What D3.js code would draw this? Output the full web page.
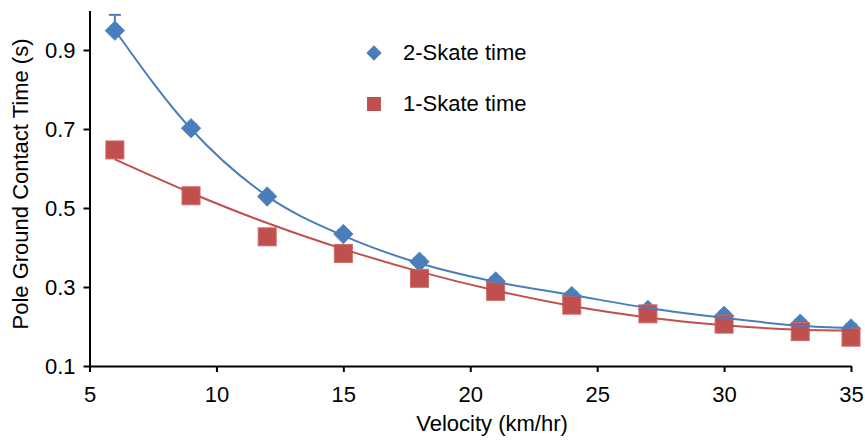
<!DOCTYPE html>
<html>
<head>
<meta charset="utf-8">
<script src="https://cdn.jsdelivr.net/npm/d3@7"></script>
<style>
  body { margin: 0; background: #fff; }
  text { font-family: "Liberation Sans", Arial, sans-serif; fill: #000; }
</style>
</head>
<body>
<script>
// chart values
let velocity = [6, 9, 12, 15, 18, 21, 24, 27, 30, 33, 35];
let twoSkate = [0.949, 0.702, 0.529, 0.434, 0.364, 0.314, 0.277, 0.242, 0.227, 0.207, 0.195];
let twoSkateErr = [0.04, 0.01, 0.01, 0.01, 0.01, 0.01, 0.01, 0.01, 0.01, 0.01, 0.01];
let oneSkate = [0.647, 0.531, 0.427, 0.385, 0.322, 0.289, 0.254, 0.232, 0.206, 0.187, 0.173];
// trendline values at each velocity
let twoSkateTrend = [0.95, 0.70, 0.53, 0.43, 0.36, 0.313, 0.28, 0.247, 0.222, 0.202, 0.196];
let oneSkateTrend = [0.623, 0.538, 0.462, 0.396, 0.339, 0.291, 0.252, 0.223, 0.203, 0.192, 0.19];
let xTicks = [5, 10, 15, 20, 25, 30, 35];
let yTicks = [0.1, 0.3, 0.5, 0.7, 0.9];
let seriesNames = ["2-Skate time", "1-Skate time"];

let width = 865;
let height = 441;
let blue = "#4a7ebb";
let red = "#c0504d";

let svg = d3.select("body").append("svg")
  .attr("width", width)
  .attr("height", height);

let x = d3.scaleLinear().domain([5, 35]).range([89.5, 851]);
let y = d3.scaleLinear().domain([0.1, 1.0]).range([366, 10.5]);

// axes
let xAxis = svg.append("g")
  .attr("transform", `translate(0, ${y(0.1)})`)
  .call(d3.axisBottom(x).tickValues(xTicks).tickSize(6).tickSizeOuter(0).tickPadding(14));
let yAxis = svg.append("g")
  .attr("transform", `translate(${x(5)}, 0)`)
  .call(d3.axisLeft(y).tickValues(yTicks).tickFormat(d3.format(".1f")).tickSize(6).tickSizeOuter(0).tickPadding(8));

[xAxis, yAxis].forEach(g => {
  g.select(".domain").attr("stroke", "#000").attr("stroke-width", 2);
  g.selectAll(".tick line").attr("stroke", "#000").attr("stroke-width", 2);
  g.selectAll(".tick text").style("font-size", "22px").attr("fill", "#000");
});

// axis titles
svg.append("text")
  .attr("x", 492)
  .attr("y", 431)
  .attr("text-anchor", "middle")
  .style("font-size", "22px")
  .text("Velocity (km/hr)");

svg.append("text")
  .attr("transform", "translate(28, 184) rotate(-90)")
  .attr("text-anchor", "middle")
  .style("font-size", "22px")
  .text("Pole Ground Contact Time (s)");

let rows = velocity.map((v, i) => ({
  v: v, two: twoSkate[i], err: twoSkateErr[i], one: oneSkate[i],
  twoT: twoSkateTrend[i], oneT: oneSkateTrend[i]
}));

// error bars (plus direction)
let eb = svg.append("g").attr("stroke", blue).attr("stroke-width", 2);
eb.selectAll(".err")
  .data(rows)
  .enter()
  .append("line")
  .attr("x1", d => x(d.v)).attr("x2", d => x(d.v))
  .attr("y1", d => y(d.two)).attr("y2", d => y(d.two + d.err));
eb.selectAll(".cap")
  .data(rows)
  .enter()
  .append("line")
  .attr("x1", d => x(d.v) - 6).attr("x2", d => x(d.v) + 6)
  .attr("y1", d => y(d.two + d.err)).attr("y2", d => y(d.two + d.err));

// markers
let diamond = d3.symbol().type(d3.symbolDiamond2).size(240);
svg.selectAll(".two")
  .data(rows)
  .enter()
  .append("path")
  .attr("d", diamond)
  .attr("transform", d => `translate(${x(d.v)}, ${y(d.two)})`)
  .attr("fill", blue)
  .attr("stroke", "#5b8cc8")
  .attr("stroke-width", 1);

let sq = 18;
svg.selectAll(".one")
  .data(rows)
  .enter()
  .append("rect")
  .attr("x", d => x(d.v) - sq / 2)
  .attr("y", d => y(d.one) - sq / 2)
  .attr("width", sq)
  .attr("height", sq)
  .attr("fill", red)
  .attr("stroke", "#d06a67")
  .attr("stroke-width", 1);

// trend lines
let trend = key => d3.line()
  .x(d => x(d.v))
  .y(d => y(d[key]))
  .curve(d3.curveMonotoneX);

svg.append("path")
  .datum(rows)
  .attr("d", trend("twoT"))
  .attr("fill", "none")
  .attr("stroke", blue)
  .attr("stroke-width", 2);

svg.append("path")
  .datum(rows)
  .attr("d", trend("oneT"))
  .attr("fill", "none")
  .attr("stroke", red)
  .attr("stroke-width", 2);

// legend
let legend = svg.append("g");
legend.append("path")
  .attr("d", d3.symbol().type(d3.symbolDiamond2).size(150))
  .attr("transform", "translate(374, 53)")
  .attr("fill", blue);
legend.append("rect")
  .attr("x", 367).attr("y", 97)
  .attr("width", 14).attr("height", 14)
  .attr("fill", red);
legend.selectAll(".lt")
  .data(seriesNames)
  .enter()
  .append("text")
  .attr("x", 403)
  .attr("y", (d, i) => 60 + i * 51)
  .style("font-size", "22px")
  .text(d => d);
</script>
</body>
</html>
